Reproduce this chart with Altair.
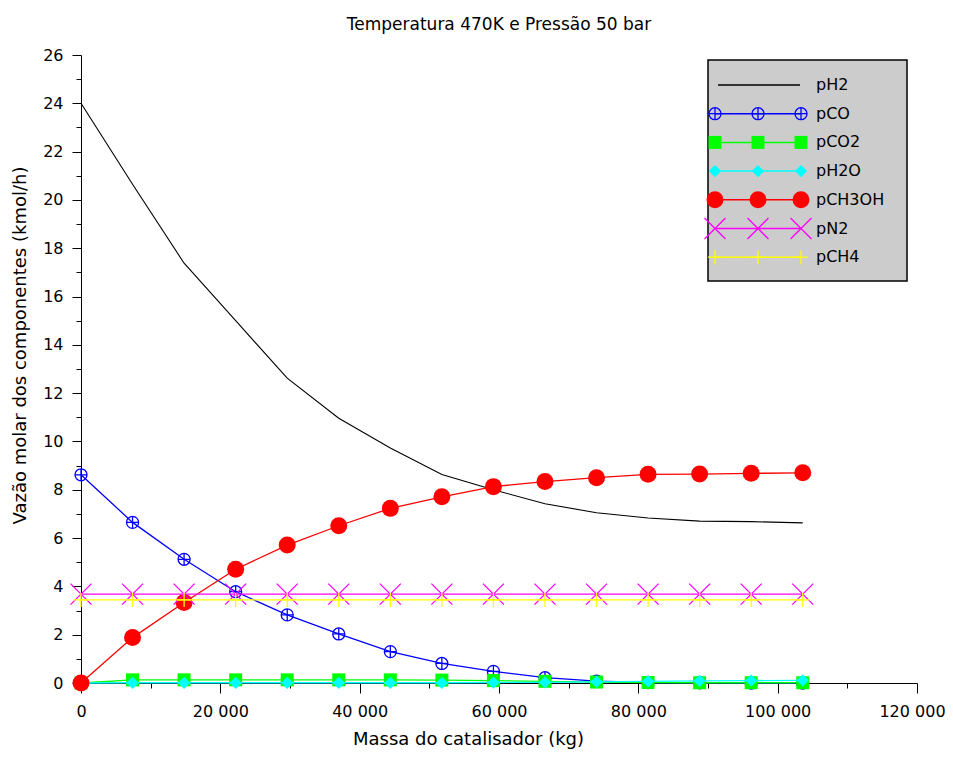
import altair as alt
import pandas as pd

# ---- data ----
massa = [0, 7400, 14800, 22200, 29600, 37000, 44400, 51800, 59200, 66600,
         74000, 81400, 88800, 96200, 103600]
pH2 = [24.0, 20.65, 17.38, 15.0, 12.62, 10.96, 9.73, 8.63, 8.0, 7.42,
       7.05, 6.83, 6.7, 6.68, 6.63]
pCO = [8.62, 6.65, 5.12, 3.78, 2.82, 2.03, 1.3, 0.81, 0.48, 0.22,
       0.08, 0.02, 0.01, 0.0, 0.0]
pCO2 = [0.0, 0.13, 0.13, 0.13, 0.13, 0.13, 0.13, 0.12, 0.1, 0.07,
        0.04, 0.02, 0.01, 0.01, 0.01]
pH2O = [0.0, 0.01, 0.01, 0.01, 0.01, 0.01, 0.01, 0.01, 0.02, 0.03,
        0.05, 0.07, 0.09, 0.1, 0.11]
pCH3OH = [0.0, 1.88, 3.33, 4.71, 5.71, 6.51, 7.23, 7.71, 8.13, 8.34,
          8.5, 8.64, 8.65, 8.68, 8.7]
pN2 = [3.68, 3.68, 3.68, 3.68, 3.68, 3.68, 3.68, 3.68, 3.68, 3.68,
       3.68, 3.68, 3.68, 3.68, 3.68]
pCH4 = [3.44, 3.44, 3.44, 3.44, 3.44, 3.44, 3.44, 3.44, 3.44, 3.44,
        3.44, 3.44, 3.44, 3.44, 3.44]

series_names = ["pH2", "pCO", "pCO2", "pH2O", "pCH3OH", "pN2", "pCH4"]
series_values = [pH2, pCO, pCO2, pH2O, pCH3OH, pN2, pCH4]
series_colors = ["#000000", "#0000ff", "#00ff00", "#00ffff", "#ff0000", "#ff00ff", "#ffff00"]

chart_title = "Temperatura 470K e Pressão 50 bar"
x_title = "Massa do catalisador (kg)"
y_title = "Vazão molar dos componentes (kmol/h)"

x_ticks = [0, 10000, 20000, 30000, 40000, 50000, 60000, 70000, 80000, 90000,
           100000, 110000, 120000]
y_ticks = list(range(0, 27))

CIRCLE_PLUS = "M-1,0A1,1,0,1,0,1,0A1,1,0,1,0,-1,0ZM-1,0L1,0M0,-1L0,1"
X_SHAPE = "M-1,-1L1,1M-1,1L1,-1"
PLUS = "M-1,0L1,0M0,-1L0,1"
marker_styles = [
    None,
    dict(shape=CIRCLE_PLUS, filled=False, size=144, strokeWidth=1.3),
    dict(shape="square", filled=True, size=169),
    dict(shape="diamond", filled=True, size=150),
    dict(shape="circle", filled=True, size=289),
    dict(shape=X_SHAPE, filled=False, size=441, strokeWidth=1.3),
    dict(shape=PLUS, filled=False, size=196, strokeWidth=1.3),
]

FONT = "DejaVu Sans"

x_axis = alt.Axis(
    values=x_ticks,
    tickSize={"condition": {"test": "datum.value % 20000 === 0", "value": 10}, "value": 5},
    labelExpr="datum.value % 20000 === 0 ? replace(format(datum.value, ','), ',', ' ') : ''",
    labelOffset={"condition": {"test": "datum.value === 120000", "value": -5}, "value": 0},
    title=x_title,
    grid=False, labelFlush=False, labelOverlap=False,
    domainColor="black", tickColor="black", labelColor="black", titleColor="black",
    labelFont=FONT, labelFontSize=16, titleFont=FONT, titleFontSize=18,
    titleFontWeight="normal", labelPadding=10,
    titleX=387, titleY=61, titleBaseline="alphabetic", titleAnchor="start", titleAlign="center",
)
y_axis = alt.Axis(
    values=y_ticks,
    tickSize={"condition": {"test": "datum.value % 2 === 0", "value": 9}, "value": 5},
    labelExpr="datum.value % 2 === 0 ? datum.label : ''",
    title=y_title,
    grid=False, labelOverlap=False, labelFlush=False,
    domainColor="black", tickColor="black", labelColor="black", titleColor="black",
    labelFont=FONT, labelFontSize=16, titleFont=FONT, titleFontSize=18,
    titleFontWeight="normal", labelPadding=9,
    titleX=-61, titleY=290, titleAngle=270, titleAlign="center", titleBaseline="middle",
)
x_scale = alt.Scale(domain=[0, 120000], nice=False, zero=False)
y_scale = alt.Scale(domain=[0, 26], nice=False, zero=False)

layers = []
for name, vals, col, mk in zip(series_names, series_values, series_colors, marker_styles):
    df = pd.DataFrame({"massa": massa, "valor": vals, "serie": name})
    base = alt.Chart(df).encode(
        x=alt.X("massa:Q", scale=x_scale, axis=x_axis),
        y=alt.Y("valor:Q", scale=y_scale, axis=y_axis),
    )
    layers.append(base.mark_line(color=col, strokeWidth=1.1 if name == "pH2" else 1.3))
    if mk is not None:
        layers.append(base.mark_point(color=col, opacity=1, **mk))

one = pd.DataFrame({"k": [0]})

# ---- chart title (as a text mark above the plot) ----
layers.append(
    alt.Chart(one).mark_text(text=chart_title, align="center", baseline="alphabetic",
                             font=FONT, fontSize=17, color="black").encode(
        x=alt.value(418), y=alt.value(-25.5)
    )
)

# ---- legend box (drawn in pixel space of the plot) ----
layers.append(
    alt.Chart(one).mark_rect(fill="#cccccc", stroke="#000000", strokeWidth=1.5).encode(
        x=alt.value(627), x2=alt.value(826), y=alt.value(5), y2=alt.value(226)
    )
)
leg_marker_x = [634, 677, 720]
for i, (name, col, mk) in enumerate(zip(series_names, series_colors, marker_styles)):
    ly = 30 + i * 28.7
    x0, x1 = (637, 719) if mk is None else (634, 720)
    layers.append(
        alt.Chart(one).mark_rule(color=col, strokeWidth=1.5).encode(
            x=alt.value(x0), x2=alt.value(x1), y=alt.value(ly)
        )
    )
    if mk is not None:
        for lx in leg_marker_x:
            layers.append(
                alt.Chart(one).mark_point(color=col, opacity=1, **mk).encode(
                    x=alt.value(lx), y=alt.value(ly)
                )
            )
    layers.append(
        alt.Chart(one).mark_text(text=name, align="left", baseline="middle",
                                 font=FONT, fontSize=16, color="black").encode(
            x=alt.value(735), y=alt.value(ly)
        )
    )

chart = alt.layer(*layers).properties(
    width=836,
    height=628,
    autosize=alt.AutoSizeParams(type="none"),
    padding={"left": 73, "top": 47, "right": 28, "bottom": 66},
    background="white",
).configure_view(stroke=None)

chart.save("out.html", embed_options={"renderer": "svg", "actions": False})
